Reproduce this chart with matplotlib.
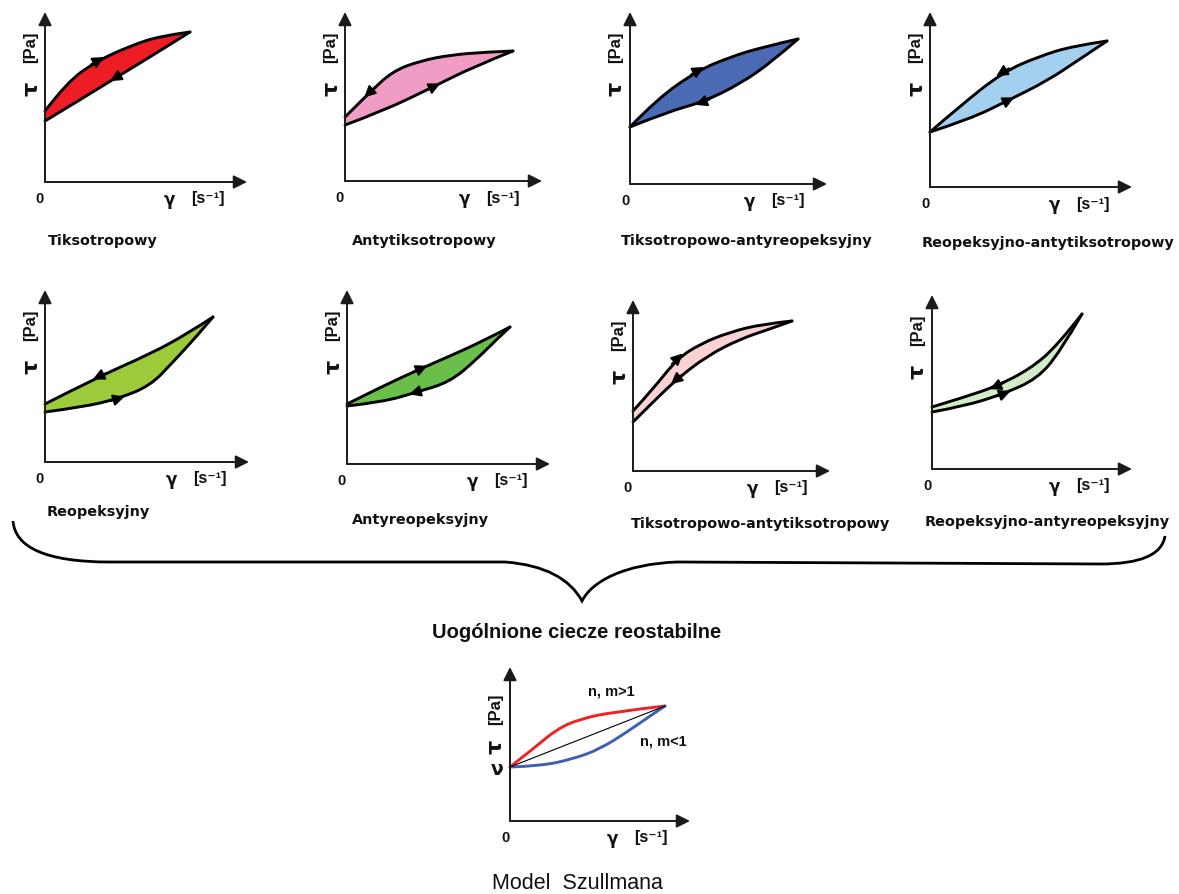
import matplotlib
matplotlib.use("Agg")
import matplotlib.pyplot as plt
from matplotlib.path import Path
from matplotlib.patches import PathPatch
import numpy as np

plt.rcParams['font.family'] = ['Liberation Sans', 'DejaVu Sans']

W, H = 1179, 895

# panel names and fill colours
titles = ["Tiksotropowy", "Antytiksotropowy", "Tiksotropowo-antyreopeksyjny",
          "Reopeksyjno-antytiksotropowy", "Reopeksyjny", "Antyreopeksyjny",
          "Tiksotropowo-antytiksotropowy", "Reopeksyjno-antyreopeksyjny"]
fills = ["#ee1c24", "#f09cc4", "#4a6ab4", "#a4d0ef",
         "#9bcb3b", "#6abf4b", "#f9d3d3", "#d2ebc8"]

# hysteresis loops: upper branch and lower branch (shear rate, shear stress)
up_gamma = [[0, 22, 52, 85, 115, 145],
            [0, 25, 48, 75, 105, 142, 168],
            [0, 27, 67, 100, 133, 168],
            [0, 30, 73, 110, 143, 177],
            [0, 55, 105, 142, 168],
            [0, 36, 73, 103, 136, 163],
            [0, 20, 44, 67, 97, 130, 159],
            [0, 33, 65, 98, 125, 150]]
up_tau = [[71, 100, 121, 136, 146, 150],
          [64, 89, 110, 120, 126, 129, 130],
          [57, 85, 113, 127, 137, 145],
          [55, 81, 115, 131, 141, 146],
          [58, 86, 108, 128, 145],
          [60, 78, 95, 108, 123, 137],
          [60, 82, 112, 127, 139, 147, 150],
          [62, 72, 83, 100, 123, 155]]
lo_gamma = [[0, 38, 72, 105, 145],
            [0, 38, 88, 128, 168],
            [0, 37, 73, 110, 143, 168],
            [0, 40, 77, 117, 150, 177],
            [0, 38, 72, 105, 128, 152, 168],
            [0, 36, 70, 103, 130, 150, 163],
            [0, 20, 44, 74, 107, 137, 159],
            [0, 33, 71, 105, 128, 150]]
lo_tau = [[61, 84, 105, 125, 150],
          [56, 70, 94, 114, 130],
          [57, 72, 82, 100, 123, 145],
          [55, 68, 86, 106, 128, 146],
          [50, 55, 63, 76, 100, 126, 145],
          [58, 62, 72, 82, 105, 125, 137],
          [49, 69, 92, 115, 132, 142, 150],
          [57, 63, 75, 90, 117, 155]]
# direction arrows: (point index, +1 forward / -1 backward)
up_arrow = [(2, 1), (1, -1), (2, 1), (2, -1), (1, -1), (2, 1), (2, 1), (2, -1)]
lo_arrow = [(2, -1), (2, 1), (2, -1), (2, 1), (2, 1), (2, -1), (2, -1), (2, 1)]

# Szullman model panel
red_gamma = [0, 23, 47, 70, 103, 155]
red_tau = [54, 72, 92, 102, 109, 115]
blue_gamma = [0, 30, 63, 90, 117, 140, 155]
blue_tau = [54, 55, 62, 72, 89, 105, 115]
lin_gamma = [0, 155]
lin_tau = [54, 115]

# layout: origin (px), axis lengths (px), title position (px)
origins = [(45, 183), (345, 182), (630, 185), (930, 188),
           (45, 463), (347, 465), (633, 472), (932, 470)]
lengths = [(200, 168), (195, 167), (195, 170), (200, 173),
           (202, 170), (201, 172), (195, 169), (198, 172)]
title_pos = [(48, 241), (352, 241), (621, 241), (922, 243),
             (47, 512), (352, 520), (631, 524), (925, 522)]

fig = plt.figure(figsize=(W / 100, H / 100), dpi=100)
bg = fig.add_axes([0, 0, 1, 1])
bg.set_xlim(0, W)
bg.set_ylim(H, 0)
bg.axis("off")

TXT = dict(fontsize=10.5, fontweight="bold", color="#111111")
TTL = dict(fontsize=10.4, fontweight="bold", color="#111111", family="DejaVu Sans")
GRK = dict(fontweight="bold", color="#111111", family="DejaVu Sans")


def smooth(xs, ys):
    # quadratic bezier through midpoints, data points act as control points
    p = list(zip(xs, ys))
    verts, codes = [p[0]], [Path.MOVETO]
    for i in range(1, len(p) - 1):
        end = p[-1] if i == len(p) - 2 else ((p[i][0] + p[i + 1][0]) / 2,
                                              (p[i][1] + p[i + 1][1]) / 2)
        verts += [p[i], end]
        codes += [Path.CURVE3, Path.CURVE3]
    return verts, codes


def curve(ax, xs, ys, color, lw=2.1):
    v, c = smooth(xs, ys)
    ax.add_patch(PathPatch(Path(v, c), fill=False, color=color, lw=lw,
                           capstyle="round", joinstyle="round", clip_on=False))


def loop_fill(ax, ug, ut, lg, lt, color):
    v1, c1 = smooth(ug, ut)
    v2, c2 = smooth(lg[::-1], lt[::-1])
    v = v1 + v2 + [v1[0]]
    c = c1 + [Path.LINETO] + c2[1:] + [Path.CLOSEPOLY]
    ax.add_patch(PathPatch(Path(v, c), facecolor=color, lw=0, clip_on=False))


def panel(ox, oy, lx, ly, tau_off=74, pa_off=32):
    ax = fig.add_axes([ox / W, (H - oy) / H, lx / W, ly / H])
    ax.set_xlim(0, lx)
    ax.set_ylim(0, ly)
    ax.axis("off")
    ax.patch.set_alpha(0)
    ap = dict(arrowstyle="-|>", color="#1a1a1a", lw=1.4, mutation_scale=20,
              shrinkA=0, shrinkB=0)
    ax.annotate("", xy=(lx + 2, 0), xytext=(0, 0), arrowprops=ap, annotation_clip=False)
    ax.annotate("", xy=(0, ly + 2), xytext=(0, 0), arrowprops=ap, annotation_clip=False)
    ax.text(-5, -16, "0", ha="center", va="center", **TXT)
    ax.text(lx - 76, -17, "γ", ha="center", va="center", fontsize=12, **GRK)
    ax.text(lx - 54, -16, "[s\u207b\u00b9]", ha="left", va="center", fontsize=11.5,
            fontweight="bold", color="#111111")
    ax.text(-14, ly - tau_off, "τ", rotation=90, ha="center", va="center",
            fontsize=16, **GRK)
    ax.text(-14, ly - pa_off, "[Pa]", rotation=90, ha="center", va="center",
            fontsize=12, fontweight="bold", color="#111111")
    return ax


def dir_arrow(ax, g, t, spec):
    i, s = spec
    d = np.array([g[i + 1] - g[i - 1], t[i + 1] - t[i - 1]], float)
    d = d / np.hypot(*d) * s
    p = np.array([g[i], t[i]], float)
    ax.annotate("", xy=p + 8 * d, xytext=p - 7 * d,
                arrowprops=dict(arrowstyle="-|>", color="black", lw=1.4,
                                mutation_scale=17, shrinkA=0, shrinkB=0))


for k in range(8):
    ox, oy = origins[k]
    lx, ly = lengths[k]
    ax = panel(ox, oy, lx, ly)
    loop_fill(ax, up_gamma[k], up_tau[k], lo_gamma[k], lo_tau[k], fills[k])
    curve(ax, up_gamma[k], up_tau[k], "black")
    curve(ax, lo_gamma[k], lo_tau[k], "black")
    dir_arrow(ax, up_gamma[k], up_tau[k], up_arrow[k])
    dir_arrow(ax, lo_gamma[k], lo_tau[k], lo_arrow[k])
    bg.text(title_pos[k][0], title_pos[k][1], titles[k], ha="left", va="center", **TTL)

# Szullman panel
ax = panel(510, 822, 178, 152, tau_off=77, pa_off=39)
ax.plot(lin_gamma, lin_tau, color="black", lw=0.8)
curve(ax, red_gamma, red_tau, "#ee2222")
curve(ax, blue_gamma, blue_tau, "#3f5fb3")
ax.text(-13, 52, "ν", ha="center", va="center", fontsize=13.5, **GRK)
ax.text(78, 130, "n, m>1", ha="left", va="center", **TXT)
ax.text(130, 80, "n, m<1", ha="left", va="center", **TXT)

# curly brace
verts = [(13, 522), (15, 548), (45, 563), (110, 563),
         (505, 563),
         (545, 566), (570, 580), (582, 602),
         (592, 582), (625, 565), (677, 563),
         (1100, 565),
         (1140, 565), (1162, 556), (1165, 537)]
codes = [Path.MOVETO, Path.CURVE4, Path.CURVE4, Path.CURVE4,
         Path.LINETO,
         Path.CURVE4, Path.CURVE4, Path.CURVE4,
         Path.CURVE4, Path.CURVE4, Path.CURVE4,
         Path.LINETO,
         Path.CURVE4, Path.CURVE4, Path.CURVE4]
bg.add_patch(PathPatch(Path(verts, codes), fill=False, lw=2.0, color="black"))

bg.text(577, 633, "Uogólnione ciecze reostabilne", ha="center", va="center",
        fontsize=14.5, fontweight="bold", color="#111111")
bg.text(577, 884, "Model  Szullmana", ha="center", va="center",
        fontsize=15.5, color="#111111")

fig.savefig("out.png", dpi=100)
